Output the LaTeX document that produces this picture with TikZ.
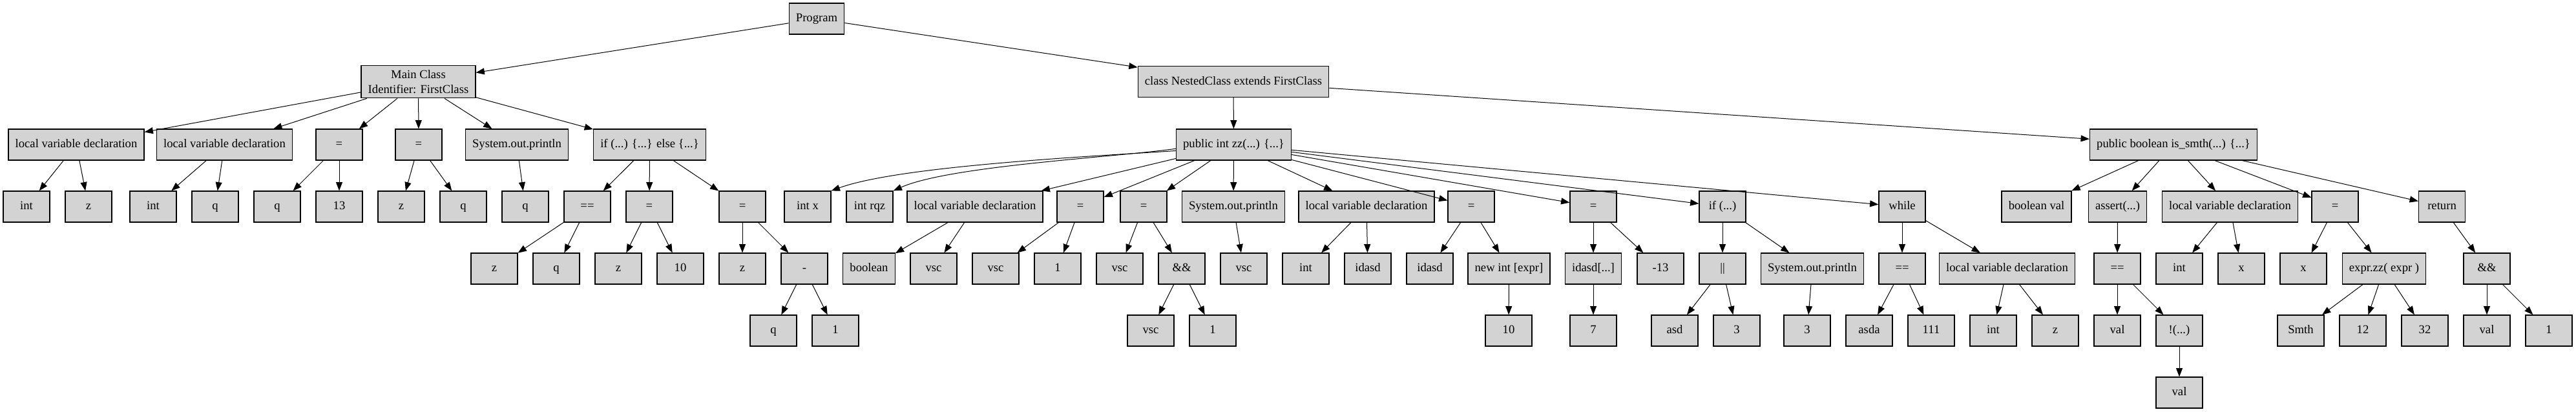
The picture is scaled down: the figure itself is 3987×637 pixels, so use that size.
\documentclass[tikz,border=0pt]{standalone}
\usepackage{fontspec}
\setmainfont{Liberation Serif}
\usepackage{tikz}
\usetikzlibrary{arrows.meta,positioning}
\definecolor{lightgrey}{RGB}{211,211,211}

\begin{document}
\begin{tikzpicture}
[x=0.75pt, y=-0.75pt, font=\fontsize{14}{17}\selectfont,
>={Triangle[length=10pt,width=7.5pt]},
% STYLES
% The ast style is used to draw every node of the tree
ast/.style={rectangle, draw, fill=lightgrey, line width=0.9pt, inner xsep=8pt, inner ysep=0pt, minimum width=54pt, minimum height=36pt, text height=10pt, text depth=3pt},
% The head style is used for the two-line class node
head/.style={rectangle, draw, fill=lightgrey, line width=0.9pt, inner xsep=8pt, inner ysep=3pt, minimum height=38pt, align=center},
% The link style is used for the arrows of the tree
link/.style={->, line width=0.75pt}]

\useasboundingbox (0,0) rectangle (3987,637);

% Draw root and classes
\node [ast] (prog) at (1264,29) {Program};
\node [head] (mainclass) at (647.5,126.5) {Main Class\\Identifier: FirstClass};
\node [ast] (nested) at (1909,126.5) {class NestedClass extends FirstClass};

%%%%%%%%%%%%%%%
% Main Class

\node [ast] (m-decl1) at (118,224) {local variable declaration};
\node [ast] (m-decl2) at (347.5,224) {local variable declaration};
\node [ast] (m-asg1) at (525,224) {=};
\node [ast] (m-asg2) at (648,224) {=};
\node [ast] (m-print) at (800,224) {System.out.println};
\node [ast] (m-if) at (1005.5,224) {if (...) \{...\} else \{...\}};

\node [ast] (m-decl1-type) at (41,320) {int};
\node [ast] (m-decl1-id) at (137,320) {z};
\node [ast] (m-decl2-type) at (237,320) {int};
\node [ast] (m-decl2-id) at (333,320) {q};
\node [ast] (m-asg1-l) at (429,320) {q};
\node [ast] (m-asg1-r) at (525,320) {13};
\node [ast] (m-asg2-l) at (621,320) {z};
\node [ast] (m-asg2-r) at (717,320) {q};
\node [ast] (m-print-arg) at (813,320) {q};
\node [ast] (m-if-cond) at (909,320) {==};
\node [ast] (m-if-then) at (1005,320) {=};
\node [ast] (m-if-else) at (1149,320) {=};

\node [ast] (cond-l) at (765,416) {z};
\node [ast] (cond-r) at (861,416) {q};
\node [ast] (then-l) at (957,416) {z};
\node [ast] (then-r) at (1053,416) {10};
\node [ast] (else-l) at (1149,416) {z};
\node [ast] (else-r) at (1245,416) {-};

\node [ast] (else-r-l) at (1197,512) {q};
\node [ast] (else-r-r) at (1293,512) {1};

%%%%%%%%%%%%%%%
% NestedClass: public int zz

\node [ast] (zz) at (1909.5,224) {public int zz(...) \{...\}};

\node [ast] (zz-x) at (1250,320) {int x};
\node [ast] (zz-rqz) at (1346,320) {int rqz};
\node [ast] (zz-decl1) at (1509,320) {local variable declaration};
\node [ast] (zz-asg1) at (1672,320) {=};
\node [ast] (zz-asg2) at (1770,320) {=};
\node [ast] (zz-print1) at (1909,320) {System.out.println};
\node [ast] (zz-decl2) at (2115,320) {local variable declaration};
\node [ast] (zz-asg3) at (2277,320) {=};
\node [ast] (zz-asg4) at (2466,320) {=};
\node [ast] (zz-if) at (2666,320) {if (...)};
\node [ast] (zz-while) at (2944,320) {while};

\node [ast] (zz-decl1-type) at (1345,416) {boolean};
\node [ast] (zz-decl1-id) at (1445,416) {vsc};
\node [ast] (zz-asg1-l) at (1541,416) {vsc};
\node [ast] (zz-asg1-r) at (1637,416) {1};
\node [ast] (zz-asg2-l) at (1733,416) {vsc};
\node [ast] (zz-asg2-r) at (1829,416) {\&\&};
\node [ast] (zz-print1-arg) at (1925,416) {vsc};
\node [ast] (zz-decl2-type) at (2021,416) {int};
\node [ast] (zz-decl2-id) at (2117,416) {idasd};
\node [ast] (zz-asg3-l) at (2213,416) {idasd};
\node [ast] (zz-asg3-r) at (2335.5,416) {new int [expr]};
\node [ast] (zz-asg4-l) at (2466,416) {idasd[...]};
\node [ast] (zz-asg4-r) at (2570,416) {-13};
\node [ast] (zz-if-cond) at (2666,416) {||};
\node [ast] (zz-if-body) at (2805,416) {System.out.println};
\node [ast] (zz-while-cond) at (2944,416) {==};
\node [ast] (zz-while-body) at (3106.5,416) {local variable declaration};

\node [ast] (zz-asg2-r-l) at (1781,512) {vsc};
\node [ast] (zz-asg2-r-r) at (1877,512) {1};
\node [ast] (zz-asg3-r-size) at (2335,512) {10};
\node [ast] (zz-asg4-l-idx) at (2466,512) {7};
\node [ast] (zz-if-cond-l) at (2592,512) {asd};
\node [ast] (zz-if-cond-r) at (2688,512) {3};
\node [ast] (zz-if-body-arg) at (2797,512) {3};
\node [ast] (zz-while-cond-l) at (2893,512) {asda};
\node [ast] (zz-while-cond-r) at (2989,512) {111};
\node [ast] (zz-while-body-type) at (3085,512) {int};
\node [ast] (zz-while-body-id) at (3181,512) {z};

%%%%%%%%%%%%%%%
% NestedClass: public boolean is_smth

\node [ast] (smth) at (3364,224) {public boolean is\_smth(...) \{...\}};

\node [ast] (smth-val) at (3152,320) {boolean val};
\node [ast] (smth-assert) at (3277.5,320) {assert(...)};
\node [ast] (smth-decl) at (3451.5,320) {local variable declaration};
\node [ast] (smth-asg) at (3614,320) {=};
\node [ast] (smth-return) at (3779.5,320) {return};

\node [ast] (smth-assert-eq) at (3277,416) {==};
\node [ast] (smth-decl-type) at (3373,416) {int};
\node [ast] (smth-decl-id) at (3469,416) {x};
\node [ast] (smth-asg-l) at (3565,416) {x};
\node [ast] (smth-asg-r) at (3690,416) {expr.zz( expr )};
\node [ast] (smth-return-and) at (3849,416) {\&\&};

\node [ast] (smth-eq-l) at (3277,512) {val};
\node [ast] (smth-eq-r) at (3373,512) {!(...)};
\node [ast] (smth-call-a) at (3561,512) {Smth};
\node [ast] (smth-call-b) at (3657,512) {12};
\node [ast] (smth-call-c) at (3753,512) {32};
\node [ast] (smth-and-l) at (3849,512) {val};
\node [ast] (smth-and-r) at (3945,512) {1};

\node [ast] (smth-not-arg) at (3373,608) {val};

%%%%%%%%%%%%%%%%

% Draw the links of the tree
\path[link]
(prog) edge (mainclass)
(prog) edge (nested)
(mainclass) edge (m-decl1)
(mainclass) edge (m-decl2)
(mainclass) edge (m-asg1)
(mainclass) edge (m-asg2)
(mainclass) edge (m-print)
(mainclass) edge (m-if)
(m-decl1) edge (m-decl1-type)
(m-decl1) edge (m-decl1-id)
(m-decl2) edge (m-decl2-type)
(m-decl2) edge (m-decl2-id)
(m-asg1) edge (m-asg1-l)
(m-asg1) edge (m-asg1-r)
(m-asg2) edge (m-asg2-l)
(m-asg2) edge (m-asg2-r)
(m-print) edge (m-print-arg)
(m-if) edge (m-if-cond)
(m-if) edge (m-if-then)
(m-if) edge (m-if-else)
(m-if-cond) edge (cond-l)
(m-if-cond) edge (cond-r)
(m-if-then) edge (then-l)
(m-if-then) edge (then-r)
(m-if-else) edge (else-l)
(m-if-else) edge (else-r)
(else-r) edge (else-r-l)
(else-r) edge (else-r-r);

\path[link]
(nested) edge (zz)
(nested) edge (smth)
(zz.186) edge[out=184, in=20, looseness=0.55] (zz-x.north east)
(zz.184) edge[out=188, in=24, looseness=0.55] (zz-rqz.north east)
(zz) edge (zz-decl1)
(zz) edge (zz-asg1)
(zz) edge (zz-asg2)
(zz) edge (zz-print1)
(zz) edge (zz-decl2)
(zz) edge (zz-asg3)
(zz) edge (zz-asg4)
(zz) edge (zz-if)
(zz) edge (zz-while)
(zz-decl1) edge (zz-decl1-type)
(zz-decl1) edge (zz-decl1-id)
(zz-asg1) edge (zz-asg1-l)
(zz-asg1) edge (zz-asg1-r)
(zz-asg2) edge (zz-asg2-l)
(zz-asg2) edge (zz-asg2-r)
(zz-asg2-r) edge (zz-asg2-r-l)
(zz-asg2-r) edge (zz-asg2-r-r)
(zz-print1) edge (zz-print1-arg)
(zz-decl2) edge (zz-decl2-type)
(zz-decl2) edge (zz-decl2-id)
(zz-asg3) edge (zz-asg3-l)
(zz-asg3) edge (zz-asg3-r)
(zz-asg3-r) edge (zz-asg3-r-size)
(zz-asg4) edge (zz-asg4-l)
(zz-asg4) edge (zz-asg4-r)
(zz-asg4-l) edge (zz-asg4-l-idx)
(zz-if) edge (zz-if-cond)
(zz-if) edge (zz-if-body)
(zz-if-cond) edge (zz-if-cond-l)
(zz-if-cond) edge (zz-if-cond-r)
(zz-if-body) edge (zz-if-body-arg)
(zz-while) edge (zz-while-cond)
(zz-while) edge (zz-while-body)
(zz-while-cond) edge (zz-while-cond-l)
(zz-while-cond) edge (zz-while-cond-r)
(zz-while-body) edge (zz-while-body-type)
(zz-while-body) edge (zz-while-body-id);

\path[link]
(smth) edge (smth-val)
(smth) edge (smth-assert)
(smth) edge (smth-decl)
(smth) edge (smth-asg)
(smth) edge (smth-return)
(smth-assert) edge (smth-assert-eq)
(smth-assert-eq) edge (smth-eq-l)
(smth-assert-eq) edge (smth-eq-r)
(smth-eq-r) edge (smth-not-arg)
(smth-decl) edge (smth-decl-type)
(smth-decl) edge (smth-decl-id)
(smth-asg) edge (smth-asg-l)
(smth-asg) edge (smth-asg-r)
(smth-asg-r) edge (smth-call-a)
(smth-asg-r) edge (smth-call-b)
(smth-asg-r) edge (smth-call-c)
(smth-return) edge (smth-return-and)
(smth-return-and) edge (smth-and-l)
(smth-return-and) edge (smth-and-r);

\end{tikzpicture}
\end{document}
